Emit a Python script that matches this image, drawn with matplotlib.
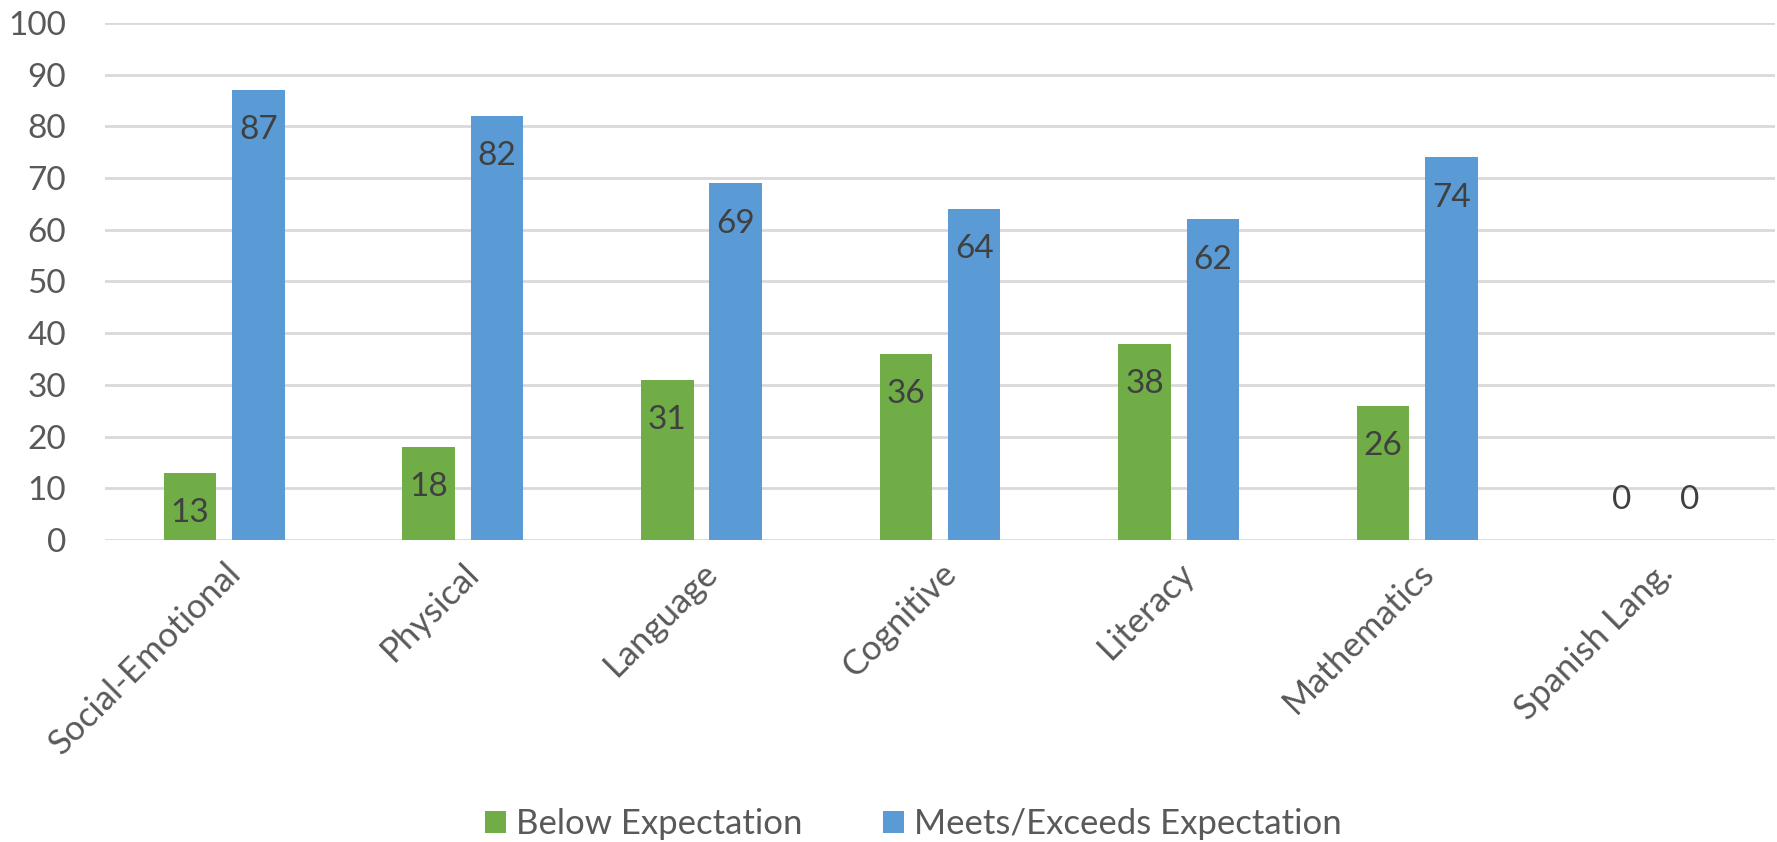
import numpy as np
import matplotlib.pyplot as plt

plt.rcParams['font.family'] = ['Lato', 'DejaVu Sans']

categories = ['Social-Emotional', 'Physical', 'Language', 'Cognitive',
              'Literacy', 'Mathematics', 'Spanish Lang.']
below = [13, 18, 31, 36, 38, 26, 0]
meets = [87, 82, 69, 64, 62, 74, 0]
yticks = [0, 10, 20, 30, 40, 50, 60, 70, 80, 90, 100]

green = '#70AD47'
blue = '#5B9BD5'
grey = '#595959'

fig = plt.figure(figsize=(17.77, 8.42), dpi=100)
ax = fig.add_axes([0.059, 0.3587, 0.94, 0.614])

x = np.arange(len(categories))
w = 0.22
off = 0.143
b1 = ax.bar(x - off, below, w, color=green, label='Below Expectation', zorder=2)
b2 = ax.bar(x + off, meets, w, color=blue, label='Meets/Exceeds Expectation', zorder=2)

# labels inside the top of each bar, above the axis for zeros
for bars, vals in [(b1, below), (b2, meets)]:
    for r, v in zip(bars, vals):
        cx = r.get_x() + r.get_width() / 2
        dy = -29 if v > 0 else 29
        ax.annotate(str(v), (cx, v), xytext=(0, dy), textcoords='offset points',
                    ha='center', va='center', fontsize=24, color='#404040', zorder=3)

ax.set_xlim(-0.5, len(categories) - 0.5)
ax.set_ylim(0, 100)
ax.set_yticks(yticks)
ax.yaxis.grid(True, color='#D9D9D9', linewidth=2, zorder=0)
for s in ax.spines.values():
    s.set_visible(False)

ax.set_xticks(x)
ax.set_xticklabels(categories, rotation=45, ha='right', rotation_mode='anchor',
                   fontsize=25)
ax.tick_params(axis='both', length=0, labelcolor=grey)
ax.tick_params(axis='y', labelsize=24, pad=28)
ax.tick_params(axis='x', pad=12)

fig.legend(loc='center', bbox_to_anchor=(0.514, 0.021), ncol=2, frameon=False,
           fontsize=25, labelcolor=grey, handlelength=0.6, handleheight=0.6,
           handletextpad=0.3, columnspacing=2.3)

fig.savefig('out.png', dpi=100)
